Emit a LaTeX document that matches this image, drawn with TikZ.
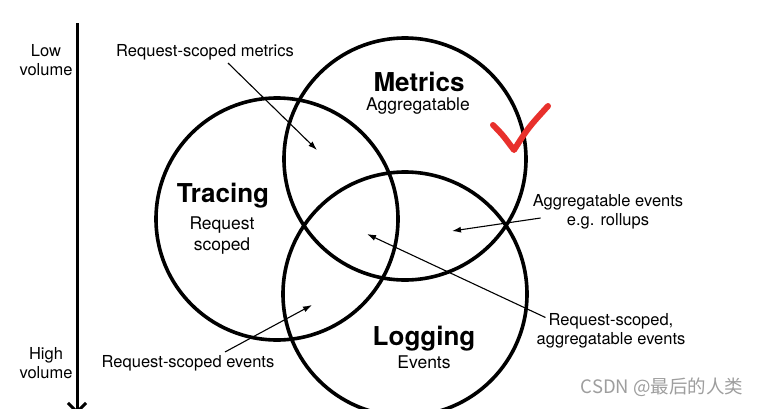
\documentclass[tikz,border=0pt]{standalone}
\usepackage{fontspec}
\setmainfont{TeX Gyre Heros}
\newfontfamily\cjk{Noto Sans CJK SC}
\usetikzlibrary{arrows.meta}
\definecolor{tickred}{HTML}{E8302C}
\tikzset{
    ring/.style={line width=3.6pt},
    note/.style={font=\fontsize{16.5}{19}\selectfont, align=center, inner sep=0pt},
    title/.style={font=\fontsize{26}{30}\selectfont\bfseries, inner sep=0pt},
    subtitle/.style={font=\fontsize{17.5}{21}\selectfont, align=center, inner sep=0pt},
    pointer/.style={line width=1.1pt, -{Latex[length=9pt,width=6pt]}},
}
\begin{document}
\begin{tikzpicture}[x=1pt,y=-1pt]
    \useasboundingbox[fill=white] (0,0) rectangle (763,408);
    % volume axis
    \coordinate (axtop) at (77,23);
    \coordinate (axbot) at (77,414);
    \draw[line width=3pt, -{Straight Barb[length=9pt,width=18pt,line width=3pt]}] (axtop) -- (axbot);
    \node[note] (low) at (46,60) {Low\\volume};
    \node[note] (high) at (46,363) {High\\volume};
    % the three circles
    \draw[ring] (277,219) circle (121);
    \draw[ring] (405,159) circle (121);
    \draw[ring] (405,294) circle (122);
    \node[title] (tracing) at (223,196) {Tracing};
    \node[subtitle] (tracingsub) at (222,236) {Request\\scoped};
    \node[title] (metrics) at (419,82) {Metrics};
    \node[subtitle] (metricssub) at (418,106) {Aggregatable};
    \node[title] (logging) at (424,339) {Logging};
    \node[subtitle] (loggingsub) at (424,362) {Events};
    % overlaps
    \coordinate (tm) at (317,150);
    \coordinate (ml) at (452,231);
    \coordinate (tml) at (367,234);
    \coordinate (tl) at (312,305);
    \node[note] (rsmetrics) at (205,52) {Request-scoped metrics};
    \node[note] (aggev) at (608,212) {Aggregatable events\\e.g. rollups};
    \node[note] (rsagg) at (611,331) {Request-scoped,\\aggregatable events};
    \node[note] (rsevents) at (188,363) {Request-scoped events};
    \draw[pointer] ([xshift=23pt,yshift=-3pt]rsmetrics.south) -- (tm);
    \draw[pointer] ([xshift=8pt,yshift=-6pt]aggev.west) -- (ml);
    \draw[pointer] ([xshift=9pt,yshift=-4pt]rsagg.north west) -- (tml);
    \draw[pointer] ([xshift=37pt,yshift=3pt]rsevents.north) -- (tl);
    % tick
    \draw[tickred, line width=6pt, line cap=round, line join=round]
        (493,125) .. controls (502,134) .. (514,150) .. controls (528,128) .. (548,106);
    % watermark
    \node[inner sep=0pt, text=black!38, font=\cjk\fontsize{18.5}{22}\selectfont] (mark) at (662,387) {CSDN @最后的人类};
\end{tikzpicture}
\end{document}
